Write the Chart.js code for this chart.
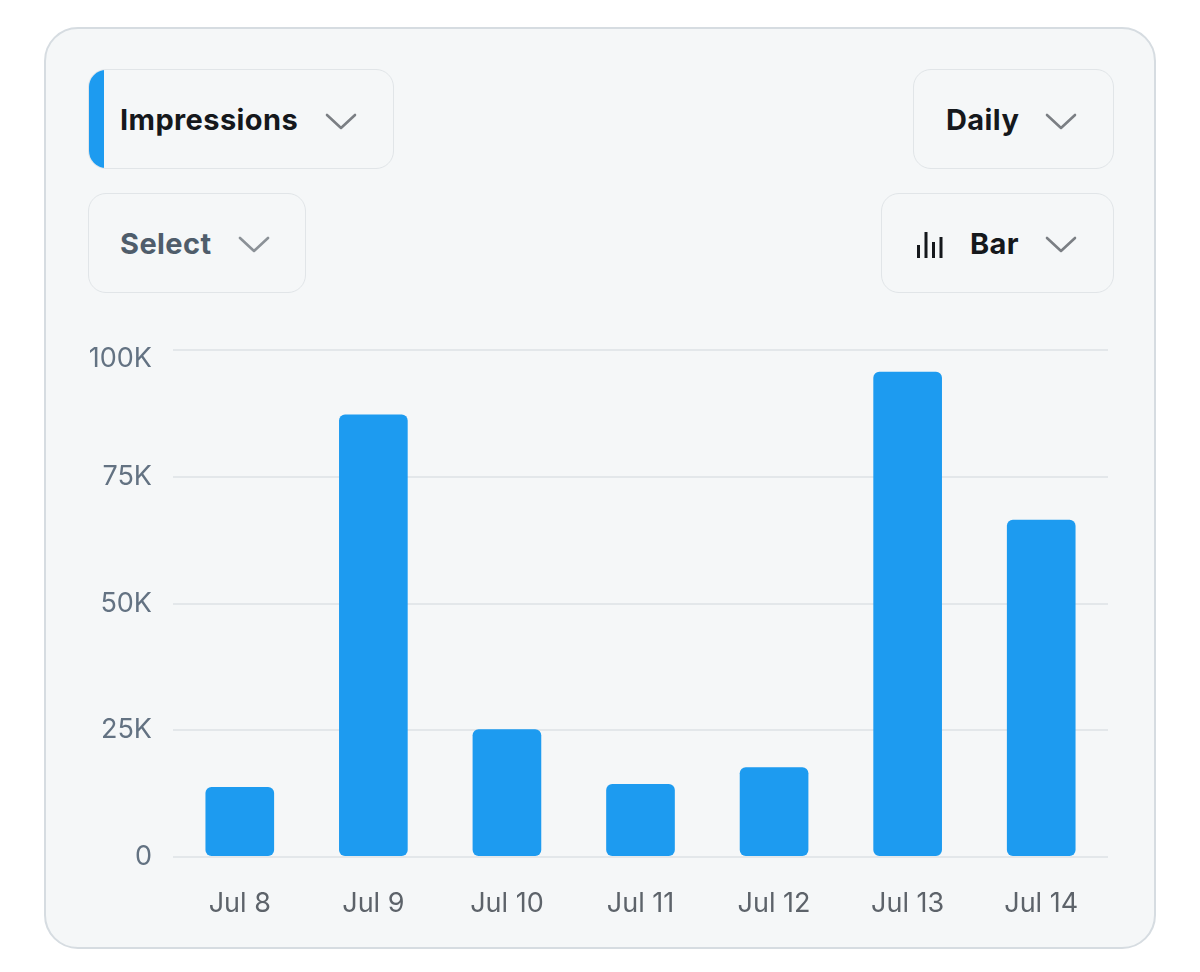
<!DOCTYPE html>
<html>
<head>
<meta charset="utf-8">
<script src="https://cdn.jsdelivr.net/npm/chart.js@4.4.1/dist/chart.umd.min.js"></script>
<style>
  html, body { margin: 0; padding: 0; background: #ffffff; }
  body { width: 1200px; height: 972px; position: relative; overflow: hidden; font-family: Inter, "Noto Sans", sans-serif; }
  .card { position: absolute; left: 44px; top: 27px; width: 1108px; height: 918px; border: 2px solid #d6dce1; border-radius: 34px; background: #f5f7f8; box-sizing: content-box; }
  .btn { position: absolute; height: 100px; border: 1.5px solid #e1e5e8; border-radius: 18px; box-sizing: border-box; overflow: hidden; background: #f5f7f8; }
  .btn .txt { position: absolute; top: 0; height: 100px; line-height: 100px; font-size: 29px; letter-spacing: 0.4px; font-weight: 700; color: #15181c; white-space: nowrap; }
  .btn svg.chev { position: absolute; }
  .accent { position: absolute; left: 0; top: 0; width: 15px; height: 100%; background: #1d9bf0; }
  #chartWrap { position: absolute; left: 60px; top: 311px; width: 1070px; height: 629px; }
</style>
</head>
<body>
<div class="card"></div>

<div class="btn" style="left:88px; top:69px; width:306px;">
  <div class="accent"></div>
  <div class="txt" style="left:31px;">Impressions</div>
  <svg class="chev" style="left:236px; top:42px;" width="32" height="20" viewBox="0 0 32 20"><polyline points="2,3 16,16 30,3" fill="none" stroke="#7b7f84" stroke-width="2.6" stroke-linecap="round" stroke-linejoin="round"/></svg>
</div>

<div class="btn" style="left:88px; top:193px; width:218px;">
  <div class="txt" style="left:31px; color:#4f5d6b;">Select</div>
  <svg class="chev" style="left:149px; top:41px;" width="32" height="20" viewBox="0 0 32 20"><polyline points="2,3 16,16 30,3" fill="none" stroke="#8b9197" stroke-width="2.6" stroke-linecap="round" stroke-linejoin="round"/></svg>
</div>

<div class="btn" style="left:913px; top:69px; width:201px;">
  <div class="txt" style="left:32px;">Daily</div>
  <svg class="chev" style="left:131px; top:42px;" width="32" height="20" viewBox="0 0 32 20"><polyline points="2,3 16,16 30,3" fill="none" stroke="#7b7f84" stroke-width="2.6" stroke-linecap="round" stroke-linejoin="round"/></svg>
</div>

<div class="btn" style="left:881px; top:193px; width:233px;">
  <svg style="position:absolute; left:34px; top:37px;" width="28" height="28" viewBox="0 0 28 28">
    <rect x="1" y="14" width="3" height="13" fill="#15181c"/>
    <rect x="8.5" y="1" width="3" height="26" fill="#15181c"/>
    <rect x="16" y="11" width="3" height="16" fill="#15181c"/>
    <rect x="23.5" y="6" width="3" height="21" fill="#15181c"/>
  </svg>
  <div class="txt" style="left:88px;">Bar</div>
  <svg class="chev" style="left:163px; top:41px;" width="32" height="20" viewBox="0 0 32 20"><polyline points="2,3 16,16 30,3" fill="none" stroke="#7b7f84" stroke-width="2.6" stroke-linecap="round" stroke-linejoin="round"/></svg>
</div>

<div id="chartWrap"><canvas id="c"></canvas></div>

<script>
const categories = ["Jul 8", "Jul 9", "Jul 10", "Jul 11", "Jul 12", "Jul 13", "Jul 14"];
const impressions = [13800, 87300, 25200, 14400, 17700, 95700, 66500];
const yTickValues = [0, 25000, 50000, 75000, 100000];
const yTickLabels = ["0", "25K", "50K", "75K", "100K"];

const FONT = "Inter, 'Noto Sans', sans-serif";

new Chart(document.getElementById('c'), {
  type: 'bar',
  data: {
    labels: categories,
    datasets: [{
      label: 'Impressions',
      data: impressions,
      backgroundColor: '#1d9bf0',
      borderRadius: 6,
      borderSkipped: false,
      categoryPercentage: 0.514,
      barPercentage: 1.0
    }]
  },
  options: {
    responsive: true,
    maintainAspectRatio: false,
    animation: false,
    layout: { padding: { top: 0, right: 22, bottom: 0, left: 0 } },
    plugins: { legend: { display: false }, tooltip: { enabled: false } },
    scales: {
      x: {
        grid: { display: false, drawTicks: false },
        border: { display: false },
        ticks: {
          color: '#5d636a',
          padding: 31,
          font: { family: FONT, size: 27, weight: 400 },
          maxRotation: 0,
          autoSkip: false
        },
        afterFit: (s) => { s.height = 83; }
      },
      y: {
        min: 0,
        max: 100000,
        afterBuildTicks: (s) => { s.ticks = yTickValues.map(v => ({ value: v })); },
        grid: { color: '#e3e7ea', lineWidth: 2, drawTicks: false },
        border: { display: false },
        ticks: {
          color: '#637282',
          padding: 21,
          callback: (v) => {
            const i = yTickValues.indexOf(v);
            const lab = i >= 0 ? yTickLabels[i] : '';
            return v === 100000 ? ['', lab] : lab;
          },
          font: (ctx) => ({
            family: FONT,
            size: 27,
            weight: 400,
            lineHeight: (ctx.tick && ctx.tick.value === 100000) ? '18px' : 1.2
          })
        },
        afterFit: (s) => { s.width = 113; }
      }
    }
  }
});
</script>
</body>
</html>
